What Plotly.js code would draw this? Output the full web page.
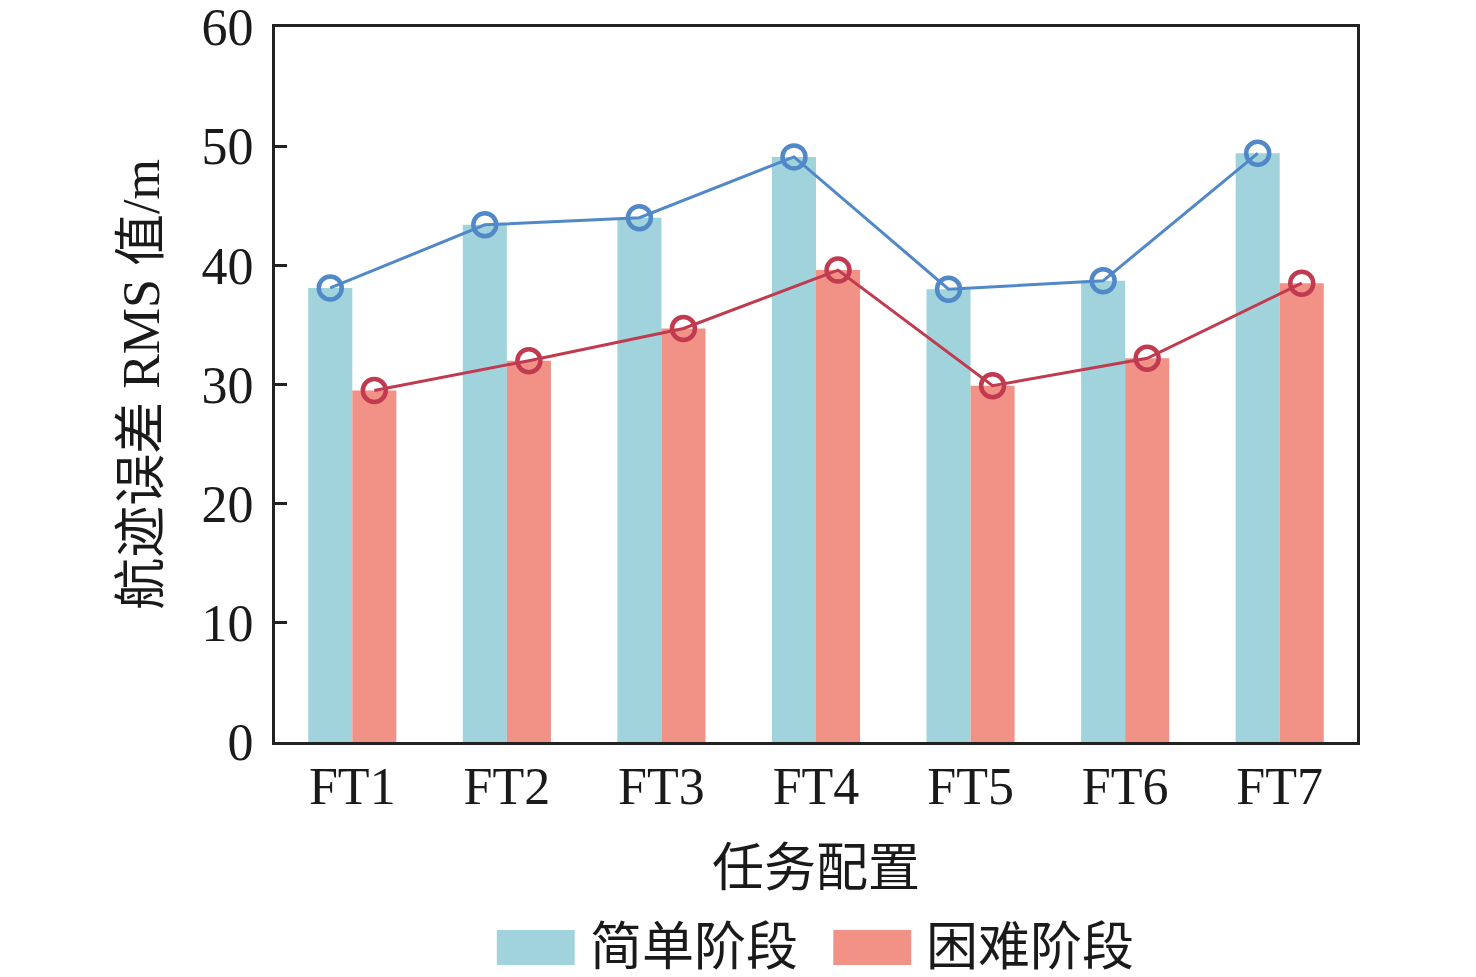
<!DOCTYPE html>
<html>
<head>
<meta charset="utf-8">
<script src="https://cdn.plot.ly/plotly-3.0.1.min.js"></script>
<style>html,body{margin:0;padding:0;background:#fff;}#chart{width:1476px;height:977px;}</style>
</head>
<body>
<div id="chart"></div>
<script>
const categories = ['FT1','FT2','FT3','FT4','FT5','FT6','FT7'];
const simpleValues = [38.1, 43.4, 44.0, 49.1, 38.0, 38.7, 49.4];
const hardValues = [29.5, 32.0, 34.7, 39.6, 29.9, 32.2, 38.5];
const seriesNames = ['简单阶段', '困难阶段'];
const yTicks = [0, 10, 20, 30, 40, 50, 60];

const FONT = '"Liberation Serif", "Times New Roman", "Noto Sans CJK SC", serif';
const barColors = ['#A0D3DB', '#F29186'];
const lineColors = ['#5088C8', '#C03A50'];
const series = [simpleValues, hardValues];

const traces = [];
series.forEach((vals, k) => {
  traces.push({
    type: 'bar', x: categories, y: vals, name: seriesNames[k],
    marker: {color: barColors[k], line: {width: 0}},
    offsetgroup: String(k), alignmentgroup: 'a', showlegend: false,
    hoverinfo: 'skip'
  });
});
series.forEach((vals, k) => {
  traces.push({
    type: 'scatter', mode: 'lines+markers', x: categories, y: vals,
    name: seriesNames[k] + '线',
    offsetgroup: String(k), alignmentgroup: 'a', showlegend: false,
    line: {color: lineColors[k], width: 3},
    marker: {symbol: 'circle-open', size: 23, color: lineColors[k], line: {width: 4.5, color: lineColors[k]}},
    hoverinfo: 'skip'
  });
});

// custom legend (swatches + labels) below the x title
const shapes = [];
const annotations = [];
const legendX = [0.205, 0.516]; // paper x of swatch left edges
series.forEach((vals, k) => {
  shapes.push({type: 'rect', xref: 'paper', yref: 'paper',
    x0: legendX[k], x1: legendX[k] + 0.072, y0: -0.312, y1: -0.263,
    fillcolor: barColors[k], line: {width: 0}});
  annotations.push({xref: 'paper', yref: 'paper', x: legendX[k] + 0.084, y: -0.288,
    xanchor: 'left', yanchor: 'middle', showarrow: false, text: seriesNames[k],
    font: {family: FONT, size: 52, color: '#1a1a1a'}});
});

const layout = {
  width: 1476, height: 977,
  margin: {l: 275, r: 119, t: 27, b: 235},
  paper_bgcolor: '#fff', plot_bgcolor: '#fff',
  barmode: 'group', bargap: 0.43, bargroupgap: 0,
  scattermode: 'group', scattergap: 0.43,
  font: {family: FONT, color: '#1a1a1a'},
  xaxis: {
    type: 'category', showgrid: false, zeroline: false,
    showline: true, linecolor: '#222', linewidth: 3, mirror: true,
    ticks: '', tickfont: {family: FONT, size: 52, color: '#1a1a1a'},
    ticklabelstandoff: -3,
    title: {text: '任务配置', font: {family: FONT, size: 52, color: '#1a1a1a'}, standoff: 36}
  },
  yaxis: {
    range: [0, 60], tickvals: yTicks, ticktext: yTicks.map(String),
    showgrid: false, zeroline: false,
    showline: true, linecolor: '#222', linewidth: 3, mirror: true,
    ticks: 'inside', ticklen: 12, tickwidth: 3, tickcolor: '#222',
    tickfont: {family: FONT, size: 52, color: '#1a1a1a'},
    ticklabelstandoff: 8, ticklabeloverflow: 'allow',
    title: {text: '航迹误差 RMS 值/m', font: {family: FONT, size: 52, color: '#1a1a1a'}, standoff: 26}
  },
  shapes: shapes, annotations: annotations,
  showlegend: false
};

Plotly.newPlot('chart', traces, layout, {displayModeBar: false, staticPlot: true});
</script>
</body>
</html>
